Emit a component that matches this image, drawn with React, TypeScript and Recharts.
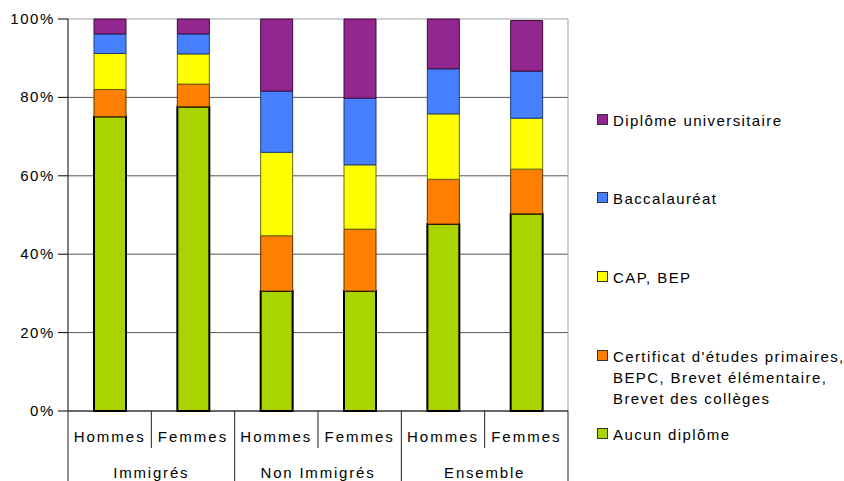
import React from "react";
import { BarChart, Bar, XAxis, YAxis, CartesianGrid, ReferenceArea } from "recharts";

const subCategories = ["Hommes", "Femmes", "Hommes", "Femmes", "Hommes", "Femmes"];
const groupCategories = ["Immigrés", "Immigrés", "Non Immigrés", "Non Immigrés", "Ensemble", "Ensemble"];
const aucun = [75.1, 77.6, 30.6, 30.6, 47.7, 50.3];
const certificat = [6.9, 5.8, 14.1, 15.8, 11.4, 11.4];
const cap = [9.2, 7.7, 21.3, 16.4, 16.7, 13.0];
const bac = [5.0, 5.1, 15.6, 17.0, 11.5, 12.0];
const univ = [3.8, 3.8, 18.4, 20.2, 12.7, 12.9];
const yTicks = [0, 20, 40, 60, 80, 100];

const seriesNames = {
  univ: "Diplôme universitaire",
  bac: "Baccalauréat",
  cap: "CAP, BEP",
  certificat: "Certificat d'études primaires, BEPC, Brevet élémentaire, Brevet des collèges",
  aucun: "Aucun diplôme",
};

const data = subCategories.map((s, i) => ({
  id: `c${i}`,
  sub: s,
  group: groupCategories[i],
  aucun: aucun[i],
  certificat: certificat[i],
  cap: cap[i],
  bac: bac[i],
  univ: univ[i],
}));

const FONT = "'Liberation Sans', Arial, Helvetica, sans-serif";
const CHART_W = 844;
const CHART_H = 481;
const MARGIN = { top: 19, right: 276, bottom: 0, left: 0 };
const Y_W = 68;
const X_H = 70;
const BAND = (CHART_W - MARGIN.right - Y_W) / subCategories.length;

const COLORS = {
  univ: "#92278F",
  bac: "#4680FF",
  cap: "#FFFF00",
  certificat: "#FF7F00",
  aucun: "#AAD400",
};

function XTick(props: any) {
  const { x, y, index } = props;
  const half = BAND / 2;
  const isFirst = index % 2 === 0;
  return (
    <g>
      <text
        x={x}
        y={y + 31}
        textAnchor="middle"
        fontFamily={FONT}
        fontSize={15}
        letterSpacing={2}
        fill="#000"
      >
        {subCategories[index]}
      </text>
      {isFirst ? (
        <>
          <line x1={x - half} y1={y} x2={x - half} y2={y + X_H} stroke="#222" strokeWidth={1} />
          <text
            x={x + half}
            y={y + 67}
            textAnchor="middle"
            fontFamily={FONT}
            fontSize={15}
            letterSpacing={1.8}
            fill="#000"
          >
            {groupCategories[index]}
          </text>
        </>
      ) : (
        <line x1={x - half} y1={y} x2={x - half} y2={y + 37} stroke="#222" strokeWidth={1} />
      )}
      {index === subCategories.length - 1 && (
        <line x1={x + half} y1={y} x2={x + half} y2={y + X_H} stroke="#222" strokeWidth={1} />
      )}
    </g>
  );
}

function YTick(props: any) {
  const { x, y, payload } = props;
  return (
    <text
      x={x}
      y={y + 5}
      textAnchor="end"
      fontFamily={FONT}
      fontSize={15}
      letterSpacing={1.6}
      fill="#000"
    >
      {`${payload.value}%`}
    </text>
  );
}

const legendItems: { key: keyof typeof COLORS; lines: string[]; top: number }[] = [
  { key: "univ", lines: ["Diplôme universitaire"], top: 110 },
  { key: "bac", lines: ["Baccalauréat"], top: 188 },
  { key: "cap", lines: ["CAP, BEP"], top: 267 },
  {
    key: "certificat",
    lines: ["Certificat d'études primaires,", "BEPC, Brevet élémentaire,", "Brevet des collèges"],
    top: 346,
  },
  { key: "aucun", lines: ["Aucun diplôme"], top: 424 },
];

export default function App() {
  return (
    <div style={{ position: "absolute", left: 0, top: 0, width: CHART_W, height: CHART_H, background: "#fff" }}>
      <BarChart width={CHART_W} height={CHART_H} data={data} margin={MARGIN} barSize={32}>
        <ReferenceArea
          x1="c0"
          x2="c5"
          y1={0}
          y2={100}
          fill="none"
          stroke="#a0a0a0"
          strokeWidth={1}
          ifOverflow="visible"
        />
        <CartesianGrid vertical={false} stroke="#555" horizontalValues={[20, 40, 60, 80]} />
        <XAxis
          dataKey="id"
          interval={0}
          tickLine={false}
          tickSize={0}
          tickMargin={0}
          height={X_H}
          axisLine={{ stroke: "#000" }}
          tick={<XTick />}
        />
        <YAxis
          type="number"
          domain={[0, 100]}
          ticks={yTicks}
          width={Y_W}
          tickSize={10}
          tickMargin={3}
          tickLine={{ stroke: "#000" }}
          axisLine={{ stroke: "#333" }}
          tick={<YTick />}
          interval={0}
        />
        <Bar dataKey="aucun" name={seriesNames.aucun} stackId="a" fill={COLORS.aucun} stroke="#000" strokeWidth={2} isAnimationActive={false} />
        <Bar dataKey="certificat" name={seriesNames.certificat} stackId="a" fill={COLORS.certificat} stroke="#5a3000" strokeWidth={1} isAnimationActive={false} />
        <Bar dataKey="cap" name={seriesNames.cap} stackId="a" fill={COLORS.cap} stroke="#6a6a00" strokeWidth={1} isAnimationActive={false} />
        <Bar dataKey="bac" name={seriesNames.bac} stackId="a" fill={COLORS.bac} stroke="#1a3a80" strokeWidth={1} isAnimationActive={false} />
        <Bar dataKey="univ" name={seriesNames.univ} stackId="a" fill={COLORS.univ} stroke="#3a0a3a" strokeWidth={1} isAnimationActive={false} />
      </BarChart>
      {legendItems.map((item) => (
        <div key={item.key} style={{ position: "absolute", left: 597, top: item.top, fontFamily: FONT, fontSize: 15, letterSpacing: 1.4, lineHeight: "21px", color: "#000" }}>
          <div
            style={{
              position: "absolute",
              left: 0,
              top: 4,
              width: 9,
              height: 9,
              background: COLORS[item.key],
              border: "1px solid #333",
            }}
          />
          <div style={{ marginLeft: 16, whiteSpace: "nowrap" }}>
            {item.lines.map((l, i) => (
              <div key={i}>{l}</div>
            ))}
          </div>
        </div>
      ))}
    </div>
  );
}
